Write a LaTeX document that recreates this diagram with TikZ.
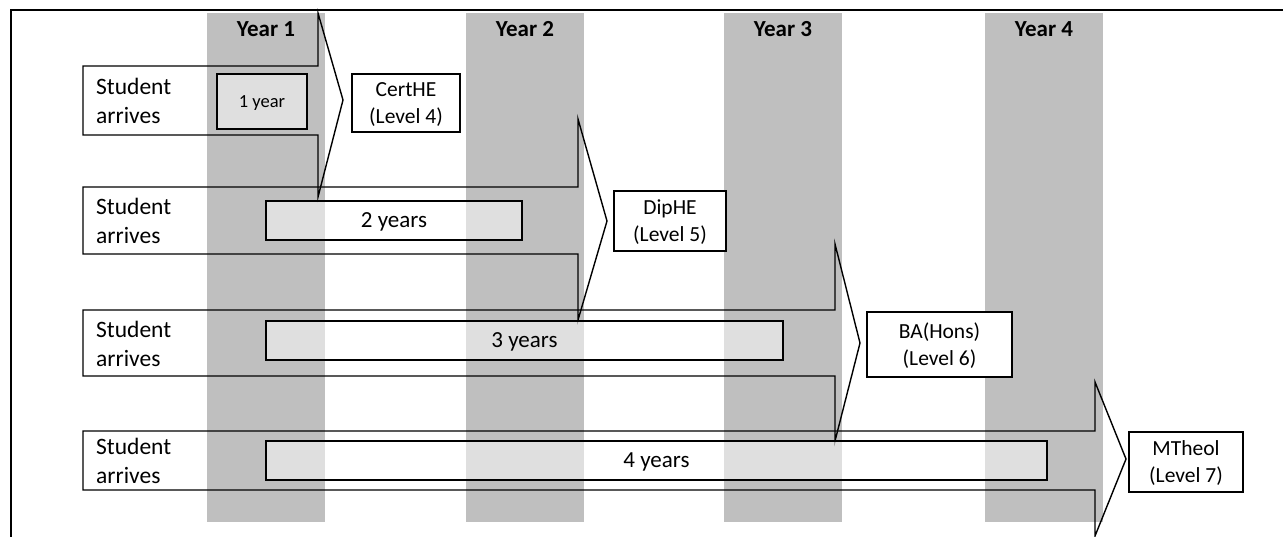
\documentclass[tikz,border=0pt]{standalone}
\usepackage{fontspec}
\setmainfont{Carlito}
\definecolor{colgrey}{RGB}{191,191,191}
\begin{document}
\begin{tikzpicture}[x=1pt,y=-1pt,
  arr/.style={draw=black, line width=1.4pt, line join=miter},
  bar/.style={draw=black, line width=1.4pt, fill=white, fill opacity=0.5, text opacity=1, inner sep=0pt, text depth=0pt, font=\fontsize{23}{28}\selectfont},
  lvl/.style={draw=black, line width=1.4pt, fill=white, inner sep=0pt, align=center, font=\fontsize{21.5}{27}\selectfont},
  stu/.style={anchor=west, align=left, inner sep=0pt, font=\fontsize{23.5}{29.5}\selectfont},
  yr/.style={font=\bfseries\fontsize{23}{28}\selectfont, inner sep=0pt}]
\useasboundingbox (0,0) rectangle (1283,536);
\clip (0,0) rectangle (1283,536);
% year columns
\fill[colgrey] (207,13) rectangle (325,522);
\fill[colgrey] (466,13) rectangle (584,522);
\fill[colgrey] (724,13) rectangle (842,522);
\fill[colgrey] (985,13) rectangle (1103,522);
\node[yr] (y1) at (266,29) {Year 1};
\node[yr] (y2) at (525,29) {Year 2};
\node[yr] (y3) at (783,29) {Year 3};
\node[yr] (y4) at (1044,29) {Year 4};
% arrows
\draw[arr] (83,66) -- (318,66) -- (318,13) -- (343,100) -- (318,197) -- (318,135) -- (83,135) -- cycle;
\draw[arr] (83,187) -- (578,187) -- (578,119) -- (607,221) -- (578,320) -- (578,254) -- (83,254) -- cycle;
\draw[arr] (83,310) -- (835,310) -- (835,244) -- (860,343) -- (835,441) -- (835,376) -- (83,376) -- cycle;
\draw[arr] (83,431) -- (1095,431) -- (1095,382) -- (1126,459) -- (1095,536) -- (1095,490) -- (83,490) -- cycle;
\node[stu] (s1) at (96,101) {Student\\arrives};
\node[stu] (s2) at (96,221) {Student\\arrives};
\node[stu] (s3) at (96,344) {Student\\arrives};
\node[stu] (s4) at (96,461) {Student\\arrives};
% duration bars
\node[bar, minimum width=90pt, minimum height=55pt, font=\fontsize{18.5}{22}\selectfont] (b1) at (262,101.5) {1 year};
\node[bar, minimum width=256pt, minimum height=39pt] (b2) at (394,220.5) {2 years};
\node[bar, minimum width=517pt, minimum height=39pt] (b3) at (524.5,340.5) {3 years};
\node[bar, minimum width=781pt, minimum height=39pt] (b4) at (656.5,460.5) {4 years};
% awards
\node[lvl, minimum width=108pt, minimum height=58pt, text depth=0pt] (l4) at (406,103) {CertHE\\(Level 4)};
\node[lvl, minimum width=112pt, minimum height=60pt, text depth=0pt] (l5) at (670,221) {DipHE\\(Level 5)};
\node[lvl, minimum width=145pt, minimum height=65pt, text depth=0pt] (l6) at (939.5,344.5) {BA(Hons)\\(Level 6)};
\node[lvl, minimum width=114pt, minimum height=60pt, text depth=0pt] (l7) at (1186,462) {MTheol\\(Level 7)};
% frame
\draw[line width=2.2pt] (11,540) -- (11,10) -- (1290,10);
\end{tikzpicture}
\end{document}
